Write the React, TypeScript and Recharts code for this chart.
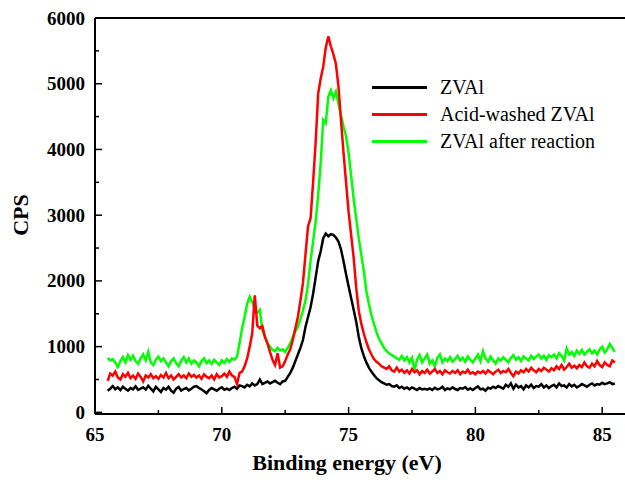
import { Label, Line, LineChart, ReferenceLine, XAxis, YAxis } from 'recharts'

const FONT = '"Liberation Serif", "Times New Roman", serif'

// binding energy grid (eV)
const ENERGY = [
  65.5, 65.6, 65.7, 65.8, 65.9, 66.0, 66.1, 66.2, 66.3, 66.4,
  66.5, 66.6, 66.7, 66.8, 66.9, 67.0, 67.1, 67.2, 67.3, 67.4,
  67.5, 67.6, 67.7, 67.8, 67.9, 68.0, 68.1, 68.2, 68.3, 68.4,
  68.5, 68.6, 68.7, 68.8, 68.9, 69.0, 69.1, 69.2, 69.3, 69.4,
  69.5, 69.6, 69.7, 69.8, 69.9, 70.0, 70.1, 70.2, 70.3, 70.4,
  70.5, 70.6, 70.7, 70.8, 70.9, 71.0, 71.1, 71.2, 71.3, 71.4,
  71.5, 71.6, 71.7, 71.8, 71.9, 72.0, 72.1, 72.2, 72.3, 72.4,
  72.5, 72.6, 72.7, 72.8, 72.9, 73.0, 73.1, 73.2, 73.3, 73.4,
  73.5, 73.6, 73.7, 73.8, 73.9, 74.0, 74.1, 74.2, 74.3, 74.4,
  74.5, 74.6, 74.7, 74.8, 74.9, 75.0, 75.1, 75.2, 75.3, 75.4,
  75.5, 75.6, 75.7, 75.8, 75.9, 76.0, 76.1, 76.2, 76.3, 76.4,
  76.5, 76.6, 76.7, 76.8, 76.9, 77.0, 77.1, 77.2, 77.3, 77.4,
  77.5, 77.6, 77.7, 77.8, 77.9, 78.0, 78.1, 78.2, 78.3, 78.4,
  78.5, 78.6, 78.7, 78.8, 78.9, 79.0, 79.1, 79.2, 79.3, 79.4,
  79.5, 79.6, 79.7, 79.8, 79.9, 80.0, 80.1, 80.2, 80.3, 80.4,
  80.5, 80.6, 80.7, 80.8, 80.9, 81.0, 81.1, 81.2, 81.3, 81.4,
  81.5, 81.6, 81.7, 81.8, 81.9, 82.0, 82.1, 82.2, 82.3, 82.4,
  82.5, 82.6, 82.7, 82.8, 82.9, 83.0, 83.1, 83.2, 83.3, 83.4,
  83.5, 83.6, 83.7, 83.8, 83.9, 84.0, 84.1, 84.2, 84.3, 84.4,
  84.5, 84.6, 84.7, 84.8, 84.9, 85.0, 85.1, 85.2, 85.3, 85.4,
  85.5,
]

const ZVAL = [
  330, 360, 400, 350, 380, 340, 390, 360, 330, 370,
  350, 395, 340, 360, 380, 345, 405, 360, 320, 390,
  350, 310, 370, 345, 390, 330, 300, 360, 385, 330,
  355, 370, 335, 360, 390, 400, 370, 350, 320, 290,
  340, 370, 350, 330, 360, 380, 345, 360, 340, 370,
  390, 360, 410, 400, 380, 420, 395, 440, 410, 430,
  500, 430, 450, 470, 440, 460, 480, 450, 430, 470,
  480, 540, 600, 680, 780, 880, 980, 1100, 1300, 1450,
  1600, 1800, 2050, 2300, 2450, 2650, 2720, 2680, 2710, 2700,
  2660, 2600, 2480, 2300, 2100, 1920, 1740, 1560, 1380, 1150,
  980, 860, 760, 680, 620, 570, 520, 490, 460, 440,
  420, 430, 400, 390, 410, 370, 390, 360, 380, 350,
  380, 360, 340, 370, 350, 360, 345, 365, 340, 375,
  350, 360, 390, 340, 365, 350, 380, 355, 340, 370,
  360, 385, 345, 365, 340, 370, 395, 350, 360, 330,
  375, 360, 390, 370, 400, 380, 360, 420, 390, 440,
  360, 420, 380, 400, 350, 410, 380, 420, 370, 400,
  390, 430, 380, 410, 370, 400, 420, 380, 440, 400,
  410, 380, 430, 395, 420, 380, 400, 430, 410, 390,
  420, 440, 410, 430, 420, 450, 430, 440, 460, 430,
  440,
]

const ACID_WASHED = [
  480, 590, 560, 620, 530, 500, 580, 540, 600, 520,
  560, 510, 590, 540, 470, 560, 530, 580, 520, 550,
  510, 570, 530, 600, 520, 560, 500, 540, 580, 530,
  560, 520, 590, 540, 570, 530, 560, 510, 580, 540,
  520, 560, 500, 580, 530, 550, 590, 540, 620, 560,
  540, 430, 600, 620, 700, 820, 1000, 1200, 1780, 1320,
  1280, 1310, 1150, 1050, 920, 800, 720, 900, 680, 700,
  780, 880, 960, 1100, 1280, 1450, 1700, 1970, 2400, 2830,
  2950, 3500, 4100, 4850, 5080, 5260, 5550, 5720, 5570, 5450,
  5300, 4960, 4450, 3950, 3500, 3050, 2700, 2350, 1900, 1550,
  1350, 1200, 1070, 960, 880, 810, 770, 740, 700, 680,
  660, 700, 640, 620, 680, 620, 650, 600, 640, 590,
  660, 610, 640, 580, 630, 600, 650, 590, 620, 660,
  600, 630, 580, 640, 610, 590, 630, 600, 640, 580,
  620, 600, 650, 590, 610, 580, 620, 600, 630, 590,
  640, 610, 580, 620, 650, 600, 630, 610, 660, 600,
  550, 620, 590, 640, 610, 660, 620, 680, 640, 610,
  660, 630, 680, 650, 620, 670, 640, 700, 660, 720,
  650, 690, 740, 680, 710, 670, 720, 690, 760, 700,
  680, 740, 700, 780, 720, 690, 760, 720, 700, 790,
  760,
]

const AFTER_REACTION = [
  830, 790, 810, 760, 690, 780, 840, 760, 870, 800,
  860, 780, 740, 820, 880, 790, 920, 760, 720, 800,
  850, 780, 820, 760, 700, 780, 820, 750, 700, 790,
  840, 760, 820, 740, 790, 760, 700, 780, 820, 750,
  790, 740, 800, 760, 720, 790, 750, 810, 770, 820,
  800, 850, 1050, 1280, 1450, 1650, 1760, 1680, 1560, 1520,
  1560, 1250, 1150, 1050, 1000, 950, 930, 980, 940, 960,
  920, 980, 1050, 1150, 1230, 1300, 1420, 1550, 1700, 1950,
  2300, 2600, 2900, 3300, 3800, 4450, 4400, 4800, 4900, 4780,
  4880, 4700, 4520, 4350, 4200, 3950, 3600, 3250, 2950, 2650,
  2400, 2150, 1850, 1650, 1480, 1350, 1220, 1120, 1050, 980,
  930, 900, 870, 850, 820, 800, 860, 790, 840, 760,
  830, 640, 800, 870, 760, 820, 880, 740, 790, 700,
  830, 880, 760, 820, 780, 840, 770, 810, 860, 790,
  830, 770, 850, 800, 760, 820, 880, 780, 930, 820,
  770, 850, 790, 740, 820, 790, 840, 800, 760, 830,
  870, 800, 840, 780, 850, 820, 790, 860, 810, 850,
  880, 820, 860, 800, 870, 840, 880, 820, 900, 860,
  790, 970, 880, 920, 860, 940, 890, 950, 880, 920,
  960, 900, 940, 880, 960, 1000, 910, 960, 1040, 980,
  920,
]

const X_TICKS = [65, 67.5, 70, 72.5, 75, 77.5, 80, 82.5, 85]
const Y_TICKS = [0, 500, 1000, 1500, 2000, 2500, 3000, 3500, 4000, 4500, 5000, 5500, 6000]

const SERIES = [
  { key: 'zval', name: 'ZVAl', color: '#000000' },
  { key: 'acid', name: 'Acid-washed ZVAl', color: '#ff0000' },
  { key: 'after', name: 'ZVAl after reaction', color: '#00ff00' },
]

const data = ENERGY.map((e, i) => ({
  e,
  zval: ZVAL[i],
  acid: ACID_WASHED[i],
  after: AFTER_REACTION[i],
}))

const labelStyle = { fontFamily: FONT, fontWeight: 700 }

function XTick({ x, y, payload }: any) {
  const major = payload.value % 5 === 0
  return (
    <g>
      <line x1={x} x2={x} y1={y} y2={y - (major ? 7 : 4)} stroke="#000" strokeWidth={1.5} />
      {major && (
        <text x={x} y={y + 27} textAnchor="middle" style={labelStyle} fontSize={19} fill="#000">
          {payload.value}
        </text>
      )}
    </g>
  )
}

function YTick({ x, y, payload }: any) {
  const major = payload.value % 1000 === 0
  return (
    <g>
      <line x1={x} x2={x + (major ? 7 : 4)} y1={y} y2={y} stroke="#000" strokeWidth={1.5} />
      {major && (
        <text x={x - 10} y={y + 6.5} textAnchor="end" style={labelStyle} fontSize={19} fill="#000">
          {payload.value}
        </text>
      )}
    </g>
  )
}

function LegendBox() {
  return (
    <div style={{ position: 'absolute', left: 372, top: 74 }}>
      {SERIES.map((s) => (
        <div key={s.key} style={{ display: 'flex', alignItems: 'center', height: 27 }}>
          <div style={{ width: 55, height: 3, background: s.color, marginRight: 13 }} />
          <span style={{ fontFamily: FONT, fontSize: 20, lineHeight: '27px', color: '#000', whiteSpace: 'nowrap' }}>
            {s.name}
          </span>
        </div>
      ))}
    </div>
  )
}

export default function App() {
  return (
    <div style={{ position: 'absolute', left: 0, top: 0, width: 625, height: 480, background: '#fff', fontFamily: FONT }}>
      <LineChart width={625} height={480} data={data} margin={{ top: 18, right: 0, bottom: 0, left: 0 }}>
        <XAxis
          dataKey="e"
          type="number"
          domain={[65, 85.9]}
          ticks={X_TICKS}
          interval={0}
          height={66}
          tickSize={0}
          tickMargin={0}
          tickLine={false}
          axisLine={{ stroke: '#000', strokeWidth: 2 }}
          tick={(p: any) => <XTick {...p} />}
          allowDataOverflow
        >
          <Label
            content={() => (
              <text x={347} y={470} textAnchor="middle" style={labelStyle} fontSize={22} fill="#000">
                Binding energy (eV)
              </text>
            )}
          />
        </XAxis>
        <YAxis
          type="number"
          domain={[-25, 6000]}
          ticks={Y_TICKS}
          interval={0}
          width={95}
          tickSize={0}
          tickMargin={0}
          tickLine={false}
          axisLine={{ stroke: '#000', strokeWidth: 2 }}
          tick={(p: any) => <YTick {...p} />}
          allowDataOverflow
        >
          <Label
            content={() => (
              <text
                x={28}
                y={215}
                transform="rotate(-90, 28, 215)"
                textAnchor="middle"
                style={labelStyle}
                fontSize={22}
                fill="#000"
              >
                CPS
              </text>
            )}
          />
        </YAxis>
        <ReferenceLine y={6000} stroke="#000" strokeWidth={2} />
        <Line dataKey="zval" name="ZVAl" stroke="#000000" strokeWidth={2.5} dot={false} type="linear" isAnimationActive={false} />
        <Line dataKey="after" name="ZVAl after reaction" stroke="#00ff00" strokeWidth={2.5} dot={false} type="linear" isAnimationActive={false} />
        <Line dataKey="acid" name="Acid-washed ZVAl" stroke="#ff0000" strokeWidth={2.5} dot={false} type="linear" isAnimationActive={false} />
      </LineChart>
      <LegendBox />
    </div>
  )
}
